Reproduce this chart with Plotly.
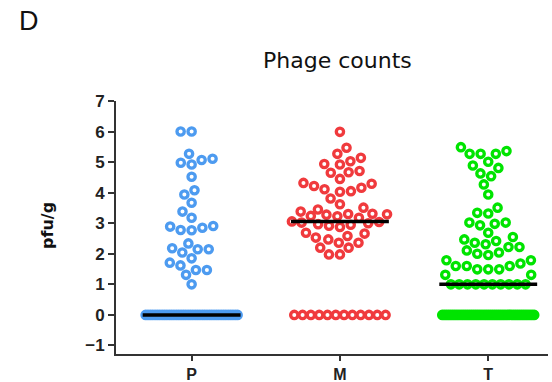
import numpy as np
import plotly.graph_objects as go

# ---------------- data ----------------
categories = ["P", "M", "T"]

p_values = [6.0, 6.0, 5.27, 5.07, 4.92, 4.98, 5.11, 4.52, 4.08, 3.94, 3.67,
            3.38, 3.18, 2.91, 2.85, 2.77, 2.78, 2.89, 2.18, 1.85, 2.15, 2.04,
            2.15, 2.34, 1.62, 1.31, 1.47, 1.47, 1.71, 1.00] + [0.0] * 40

m_values = [5.99, 5.47, 5.27, 5.14, 5.03, 4.92, 4.94, 4.71, 4.65, 4.67, 4.45,
            4.32, 4.22, 4.11, 4.05, 4.03, 4.16, 4.29, 3.81, 3.62,
            3.45, 3.29, 3.30, 3.24, 3.18, 3.23, 3.28, 3.31, 3.38, 3.51,
            2.88, 2.92, 2.95, 2.97, 3.00, 3.02, 3.04, 3.06,
            2.69, 2.58, 2.47, 2.36, 2.36, 2.53, 2.66, 2.20, 2.20, 1.98, 1.98] + [0.0] * 12

t_values = [5.27, 5.27, 5.49, 5.27, 5.36, 5.01, 4.81, 4.89, 4.54, 4.63, 4.27,
            3.94, 3.51, 3.34, 3.32, 3.02, 2.98, 2.93, 3.02, 2.69, 2.55, 2.42,
            2.47, 2.36, 2.22, 2.11, 2.00, 1.96, 2.04, 2.22, 2.31, 1.79, 1.68,
            1.60, 1.49, 1.49, 1.49, 1.60, 1.60, 1.79, 1.31, 1.31] + [1.0] * 10 + [0.0] * 45

y_tick_values = [-1, 0, 1, 2, 3, 4, 5, 6, 7]
title_text = "Phage counts"
y_label = "pfu/g"
panel_label = "D"

# ---------------- styles / geometry ----------------
colors = ["#4D9BF0", "#F03A3D", "#00E400"]
W, H = 552, 382
ML, MR, MT, MB = 116, 4, 101, 28
X_RANGE = [-0.51, 2.403]
Y_RANGE = [-1.28, 7.0]
plot_w = W - ML - MR
plot_h = H - MT - MB
px_per_x = plot_w / (X_RANGE[1] - X_RANGE[0])
px_per_y = plot_h / (Y_RANGE[1] - Y_RANGE[0])


def swarm_offsets(values, d=11.0, tie_min=8, tie_gap=8.3, half_width=46.0, limit=48.0):
    """Prism-like beeswarm: ties laid in a compressed row, others placed greedily."""
    vals = np.asarray(values, float)
    ypx = vals * px_per_y
    offs = np.full(len(vals), np.nan)
    uniq, counts = np.unique(vals, return_counts=True)
    for u, c in zip(uniq, counts):
        if c >= tie_min:
            idx = np.where(vals == u)[0]
            gap = min(tie_gap, 2 * half_width / (c - 1))
            offs[idx] = (np.arange(c) - (c - 1) / 2) * gap
    order = [i for i in np.argsort(vals, kind="stable") if np.isnan(offs[i])]
    for i in order:
        placed = np.where(~np.isnan(offs))[0]
        dy = ypx[placed] - ypx[i]
        near = np.abs(dy) < d
        pxn = offs[placed][near]
        dyn = dy[near]
        reach = np.sqrt(d * d - dyn * dyn)
        cands = [0.0] + list(pxn + reach + 1e-6) + list(pxn - reach - 1e-6)

        def ok(x):
            return len(pxn) == 0 or np.all(np.hypot(pxn - x, dyn) >= d - 1e-3)

        good = [x for x in cands if abs(x) <= limit and ok(x)]
        if good:
            x = min(good, key=lambda v: (abs(v), v))
        else:
            grid = np.linspace(-limit, limit, 193)
            mind = [np.min(np.hypot(pxn - g, dyn)) for g in grid]
            x = grid[int(np.argmax(mind))]
        offs[i] = x
    return offs / px_per_x


groups = [p_values, m_values, t_values]

fig = go.Figure()
for k, vals in enumerate(groups):
    xs = k + swarm_offsets(vals)
    fig.add_trace(go.Scatter(
        x=xs, y=vals, mode="markers", cliponaxis=False, showlegend=False,
        marker=dict(symbol="circle-open", size=7.3, color=colors[k],
                    line=dict(width=3.3, color=colors[k])),
    ))
    med = float(np.median(vals))
    fig.add_shape(type="line", xref="x", yref="y", x0=k - 0.33, x1=k + 0.33,
                  y0=med, y1=med, line=dict(color="black", width=3.5), layer="above")

axis_common = dict(showline=True, linecolor="#333333", linewidth=2, ticks="outside",
                   tickwidth=2, tickcolor="#333333", showgrid=False,
                   zeroline=False, automargin=False)

fig.update_layout(
    width=W, height=H, margin=dict(l=ML, r=MR, t=MT, b=MB, pad=0, autoexpand=False),
    paper_bgcolor="white", plot_bgcolor="white",
    xaxis=dict(range=X_RANGE, tickvals=[0, 1, 2], ticktext=categories, ticklen=5,
               tickfont=dict(family="Liberation Sans, Arial", size=16, color="#222222",
                             weight="bold"),
               **axis_common),
    yaxis=dict(range=Y_RANGE, tickvals=y_tick_values, ticklen=6,
               tickfont=dict(family="Liberation Sans, Arial", size=17, color="#222222",
                             weight="bold"),
               **axis_common),
)


def px_to_paper(xp, yp):
    return (xp - ML) / plot_w, (H - MB - yp) / plot_h


ax, ay = px_to_paper(337.5, 60)
fig.add_annotation(text=title_text, x=ax, y=ay, xref="paper", yref="paper",
                   showarrow=False, xanchor="center", yanchor="middle",
                   font=dict(family="DejaVu Sans", size=22, color="#111111"))
ax, ay = px_to_paper(47, 226)
fig.add_annotation(text=y_label, x=ax, y=ay, xref="paper", yref="paper",
                   showarrow=False, xanchor="center", yanchor="middle", textangle=-90,
                   font=dict(family="DejaVu Sans", size=16, color="#111111", weight="bold"))
ax, ay = px_to_paper(29, 21)
fig.add_annotation(text=panel_label, x=ax, y=ay, xref="paper", yref="paper",
                   showarrow=False, xanchor="center", yanchor="middle",
                   font=dict(family="Liberation Sans, Arial", size=27, color="#111111"))

fig.write_html("out.html")
